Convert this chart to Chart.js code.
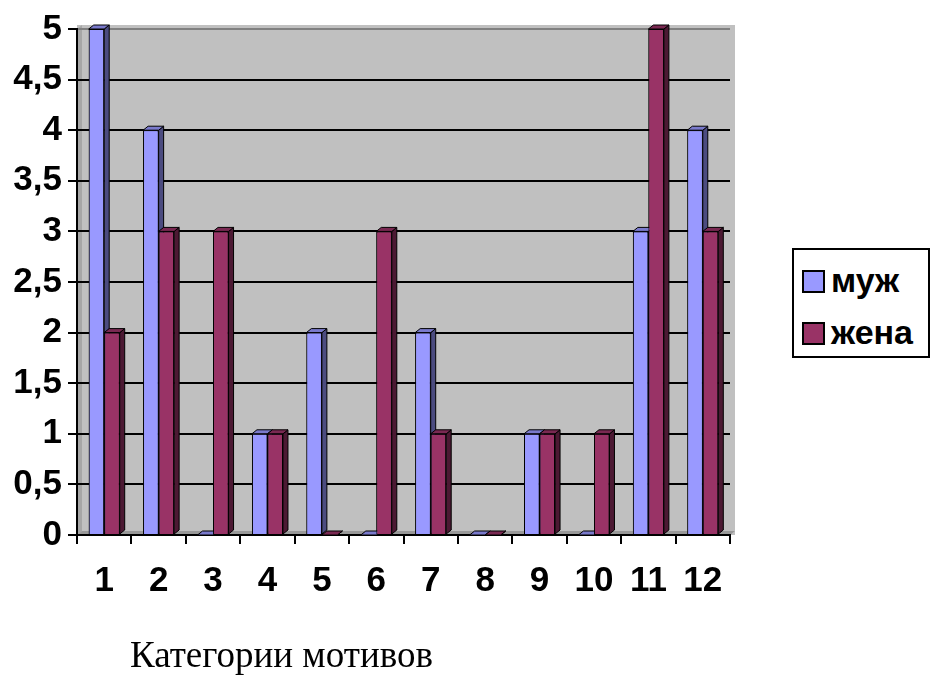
<!DOCTYPE html>
<html>
<head>
<meta charset="utf-8">
<script src="https://cdn.jsdelivr.net/npm/chart.js@4.4.0/dist/chart.umd.min.js"></script>
<style>
  body { margin: 0; background: #fff; }
  #wrap { position: relative; width: 932px; height: 681px; }
  #legend {
    position: absolute; left: 792px; top: 248px; width: 138px; height: 110px;
    border: 2px solid #000; box-sizing: border-box; background: #fff;
    font: bold 34px "Liberation Sans", Arial, sans-serif; color: #000;
  }
  #legend div { position: absolute; left: 8px; height: 38px; line-height: 38px; white-space: nowrap; }
  #legend span { display: inline-block; width: 23px; height: 23px; border: 2px solid #000; box-sizing: border-box; margin-right: 6px; vertical-align: -1px; }
  #caption {
    position: absolute; left: 130px; top: 633px;
    font: 37px "Liberation Serif", "Times New Roman", serif; color: #000;
  }
</style>
</head>
<body>
<div id="wrap">
  <canvas id="chart" width="932" height="681"></canvas>
  <div id="legend"></div>
  <div id="caption">Категории мотивов</div>
</div>
<script>
'use strict';

var categories = ['1', '2', '3', '4', '5', '6', '7', '8', '9', '10', '11', '12'];
var muzh = [5, 4, 0, 1, 2, 0, 2, 0, 1, 0, 3, 4];
var zhena = [2, 3, 3, 1, 0, 3, 1, 0, 1, 1, 5, 3];
var seriesNames = ['муж', 'жена'];
var yTicks = [0, 0.5, 1, 1.5, 2, 2.5, 3, 3.5, 4, 4.5, 5];

var frontColors = ['#9999ff', '#993366'];
var sideColors = ['#4c4c80', '#4c1933'];
var topColors = ['#7a7acc', '#7a2952'];

// grey wall behind the bars
var wall = {
    id: 'wall',
    beforeDraw: function (chart) {
        var a = chart.chartArea, c = chart.ctx;
        c.save();
        c.fillStyle = '#c0c0c0';
        c.fillRect(a.left, a.top - 4, a.right - a.left + 5, a.bottom - a.top + 4);
        // left side wall and floor
        c.fillStyle = '#a6a6a6';
        c.beginPath();
        c.moveTo(a.left, a.top); c.lineTo(a.left + 5, a.top - 4);
        c.lineTo(a.left + 5, a.bottom - 4); c.lineTo(a.left, a.bottom);
        c.closePath(); c.fill();
        c.fillStyle = '#999999';
        c.beginPath();
        c.moveTo(a.left, a.bottom); c.lineTo(a.left + 5, a.bottom - 4);
        c.lineTo(a.right + 5, a.bottom - 4); c.lineTo(a.right, a.bottom);
        c.closePath(); c.fill();
        c.restore();
    }
};

// side and top faces to fake the 3D columns; series drawn left to right
var bars3d = {
    id: 'bars3d',
    afterDatasetsDraw: function (chart) {
        var c = chart.ctx, dx = 5, dy = 4;
        chart.data.datasets.forEach(function (ds, i) {
            chart.getDatasetMeta(i).data.forEach(function (bar) {
                bar.draw(c);
                var p = bar.getProps(['x', 'y', 'base', 'width'], true);
                var l = p.x - p.width / 2, r = p.x + p.width / 2, t = p.y, b = p.base;
                c.save();
                c.lineWidth = 1;
                c.strokeStyle = '#000';
                c.fillStyle = sideColors[i];
                c.beginPath();
                c.moveTo(r, t); c.lineTo(r + dx, t - dy); c.lineTo(r + dx, b - dy); c.lineTo(r, b);
                c.closePath(); c.fill(); c.stroke();
                c.fillStyle = topColors[i];
                c.beginPath();
                c.moveTo(l, t); c.lineTo(l + dx, t - dy); c.lineTo(r + dx, t - dy); c.lineTo(r, t);
                c.closePath(); c.fill(); c.stroke();
                c.restore();
            });
        });
    }
};

var tickFont = { family: 'Liberation Sans', weight: 'bold', size: 35 };

var chart = new Chart(document.getElementById('chart').getContext('2d'), {
    type: 'bar',
    data: {
        labels: categories,
        datasets: [{
            label: seriesNames[0],
            data: muzh,
            backgroundColor: frontColors[0],
            borderColor: '#000',
            borderWidth: 1
        }, {
            label: seriesNames[1],
            data: zhena,
            backgroundColor: frontColors[1],
            borderColor: '#000',
            borderWidth: 1
        }]
    },
    plugins: [wall, bars3d],
    options: {
        responsive: false,
        animation: false,
        categoryPercentage: 0.57,
        barPercentage: 1,
        layout: { padding: { top: 29, right: 202, left: 0, bottom: 0 } },
        plugins: { legend: { display: false }, tooltip: { enabled: false } },
        scales: {
            x: {
                afterFit: function (s) { s.height = 146; },
                grid: { drawOnChartArea: false, color: '#000', lineWidth: 2, tickLength: 9, offset: true },
                border: { color: '#000', width: 2 },
                ticks: { color: '#000', font: tickFont, padding: 16, maxRotation: 0, autoSkip: false }
            },
            y: {
                min: 0,
                max: 5,
                afterFit: function (s) { s.width = 77; },
                afterBuildTicks: function (s) { s.ticks = yTicks.map(function (v) { return { value: v }; }); },
                grid: {
                    color: function (ctx) { return ctx.tick && ctx.tick.value === 5 ? '#808080' : '#000'; },
                    tickColor: '#000',
                    lineWidth: 2,
                    tickLength: 9
                },
                border: { color: '#000', width: 2 },
                ticks: {
                    color: '#000',
                    font: tickFont,
                    padding: 6,
                    callback: function (v) { return String(v).replace('.', ','); }
                }
            }
        }
    }
});

// legend built from the datasets
var legend = document.getElementById('legend');
chart.data.datasets.forEach(function (ds, i) {
    var item = document.createElement('div');
    item.style.top = (11 + i * 52) + 'px';
    var sw = document.createElement('span');
    sw.style.background = ds.backgroundColor;
    item.appendChild(sw);
    item.appendChild(document.createTextNode(ds.label));
    legend.appendChild(item);
});
</script>
</body>
</html>
